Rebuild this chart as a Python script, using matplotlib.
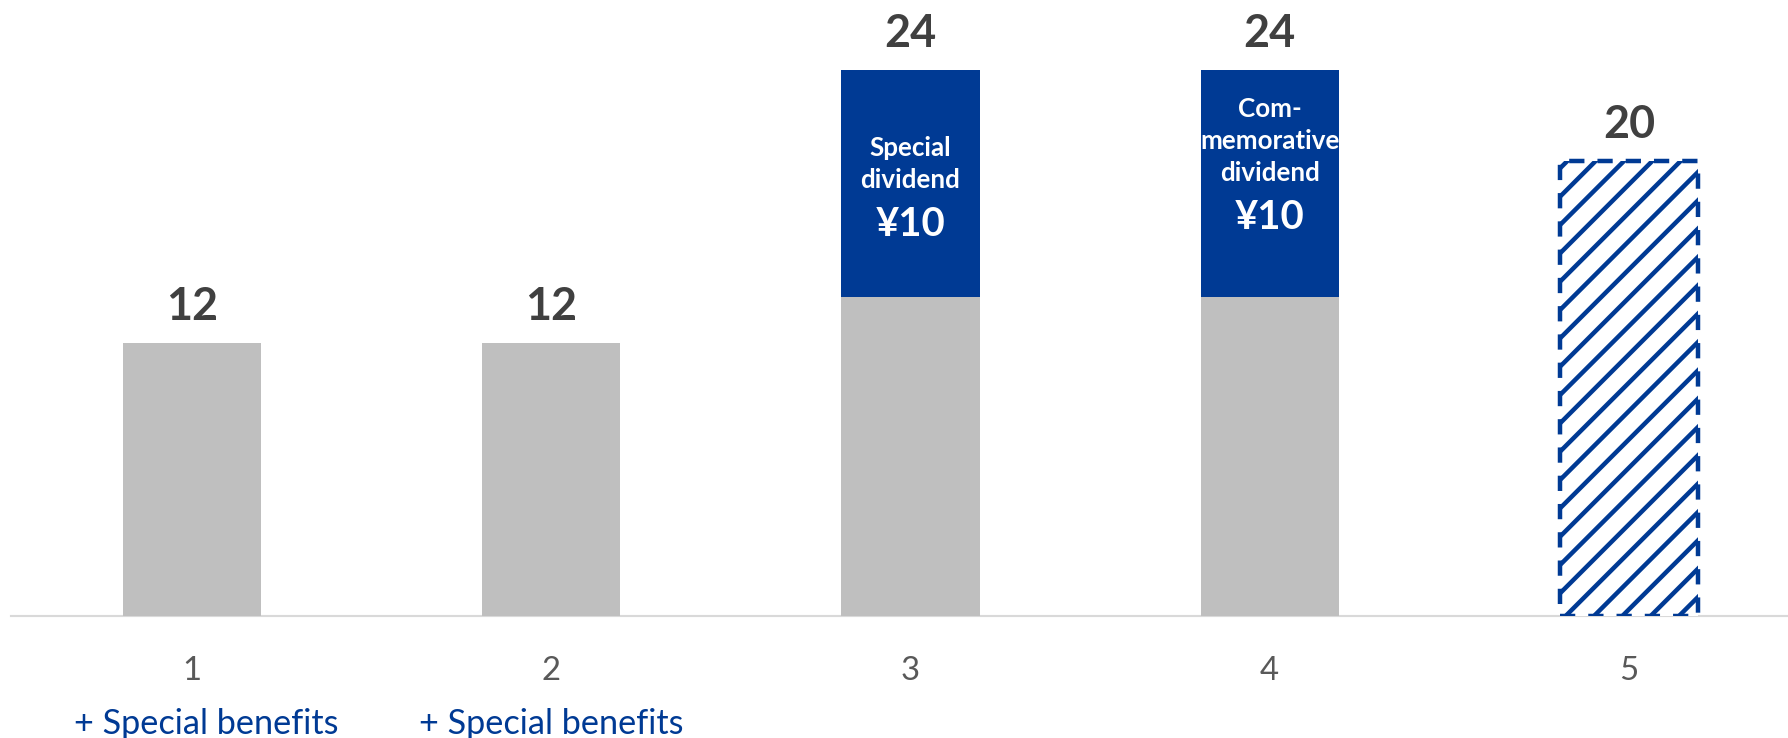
import matplotlib.pyplot as plt

# data
years = [1, 2, 3, 4, 5]
ordinary = [12, 12, 14, 14]
special = [0, 0, 10, 10]
forecast = [20]
totals = [12, 12, 24, 24, 20]
special_names = ['', '', 'Special\ndividend', 'Com-\nmemorative\ndividend']
special_amounts = ['', '', '¥10', '¥10']
notes = ['+ Special benefits', '+ Special benefits', '', '', '']

blue = '#003A94'
gray = '#BFBFBF'
dpi = 170

plt.rcParams['font.family'] = ['Lato', 'DejaVu Sans']
plt.rcParams['hatch.linewidth'] = 1.9

fig = plt.figure(figsize=(1788 / dpi, 739 / dpi), dpi=dpi)
ax = fig.add_axes([11 / 1788, 1 - 617 / 739, 1 - 11 / 1788, 617 / 739])

w = 0.385
ax.bar(years[:4], ordinary, w, color=gray, zorder=2)
ax.bar(years[:4], special, w, bottom=ordinary, color=blue, zorder=2)
ax.bar(years[4:], forecast, w, color='white', edgecolor=blue, hatch='//',
       linewidth=1.9, linestyle=(0, (3.4, 2.9)), zorder=2)

# value labels on top
for x, t in zip(years, totals):
    ax.annotate(str(t), (x, t), xytext=(0, 10), textcoords='offset points',
                ha='center', va='baseline', fontsize=19, fontweight='bold',
                color='#404040')

# text inside the special segments
amount_dy = [0, 0, -65, -62]
for i, amt in enumerate(special_amounts):
    if not amt:
        continue
    x = years[i]
    top = ordinary[i] + special[i]
    dy = amount_dy[i]
    ax.annotate(amt, (x, top), xytext=(0, dy), textcoords='offset points',
                ha='center', va='center', fontsize=17, fontweight='bold',
                color='white')
    ax.annotate(special_names[i], (x, top), xytext=(0, dy + 13.8),
                textcoords='offset points', ha='center', va='bottom',
                fontsize=11, fontweight='bold', color='white', linespacing=1.4)

# notes under the axis
note_dx = [6, 0, 0, 0, 0]
for x, n, dx in zip(years, notes, note_dx):
    if n:
        ax.annotate(n, (x, 0), xycoords=('data', 'axes fraction'),
                    xytext=(dx, -45.5), textcoords='offset points',
                    ha='center', va='center', fontsize=14.5, color=blue)

ax.set_xlim(0.496, 5.443)
ax.set_ylim(0, 27.12)
ax.set_xticks(years)
ax.set_xticklabels([str(y) for y in years])
ax.tick_params(axis='x', length=0, pad=16.5, labelsize=14, labelcolor='#595959')
ax.set_yticks([])
for side in ['left', 'right', 'top']:
    ax.spines[side].set_visible(False)
ax.spines['bottom'].set_color('#D9D9D9')
ax.spines['bottom'].set_linewidth(0.9)
ax.spines['bottom'].set_zorder(1)

fig.savefig('out.png', dpi=dpi)
